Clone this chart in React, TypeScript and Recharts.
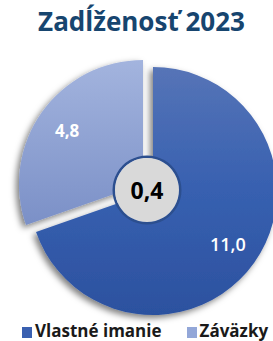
import { PieChart, Pie, Cell } from 'recharts'

const categories = ['Vlastné imanie', 'Záväzky']
const values = [11.0, 4.8]
const centerValue = [0.4]
const colors = ['#3a60b0', '#93a7d8']

const data = categories.map((name, i) => ({ name, value: values[i] }))
const centerData = centerValue.map((value) => ({ name: 'center', value }))

const fmt = (v: number) => v.toFixed(1).replace('.', ',')

const RAD = Math.PI / 180

function sliceLabel(index: number, dist: number, size: number, weight: number) {
  return (props: any) => {
    if (props.index !== index) return null
    const { cx, cy, midAngle, outerRadius, value } = props
    const x = cx + outerRadius * dist * Math.cos(-midAngle * RAD)
    const y = cy + outerRadius * dist * Math.sin(-midAngle * RAD)
    return (
      <text x={x} y={y} fill="#ffffff" fontSize={size} fontWeight={weight} textAnchor="middle" dominantBaseline="central" fontFamily="'Open Sans', sans-serif">
        {fmt(value)}
      </text>
    )
  }
}

export default function App() {
  return (
    <div style={{ position: 'absolute', left: 0, top: 0, width: 273, height: 341, background: '#fff', fontFamily: "'Open Sans', sans-serif" }}>
      <div style={{ position: 'absolute', left: 5, top: 3, width: 273, textAlign: 'center', fontSize: 26, fontWeight: 700, color: '#17456f' }}>
        Zadĺženosť 2023
      </div>
      <div style={{ position: 'absolute', left: 0, top: 0 }}>
        <PieChart width={273} height={341}>
          <defs>
            <linearGradient id="gDark" x1="0" y1="0" x2="0" y2="1">
              <stop offset="0%" stopColor="#5674b7" />
              <stop offset="50%" stopColor="#3760b0" />
              <stop offset="100%" stopColor="#2c519f" />
            </linearGradient>
            <linearGradient id="gLight" x1="0" y1="0" x2="0" y2="1">
              <stop offset="0%" stopColor="#a3b4de" />
              <stop offset="100%" stopColor="#7b90c7" />
            </linearGradient>
            <filter id="shadow" x="-20%" y="-20%" width="140%" height="140%">
              <feDropShadow dx="-3" dy="3" stdDeviation="3" floodColor="#000" floodOpacity="0.5" />
            </filter>
          </defs>
          <Pie
            data={data}
            dataKey="value"
            cx={148}
            cy={186}
            outerRadius={124}
            startAngle={90}
            endAngle={-270}
            stroke="none"
            isAnimationActive={false}
            labelLine={false}
            label={sliceLabel(0, 0.74, 18, 600)}
          >
            <Cell fill="url(#gDark)" filter="url(#shadow)" />
            <Cell fill="transparent" />
          </Pie>
          <Pie
            data={data}
            dataKey="value"
            cx={138}
            cy={179}
            outerRadius={124}
            startAngle={90}
            endAngle={-270}
            stroke="none"
            isAnimationActive={false}
            labelLine={false}
            label={sliceLabel(1, 0.75, 17, 700)}
          >
            <Cell fill="transparent" />
            <Cell fill="url(#gLight)" filter="url(#shadow)" />
          </Pie>
          <Pie
            data={centerData}
            dataKey="value"
            cx={142}
            cy={185}
            innerRadius={32}
            outerRadius={34.5}
            startAngle={90}
            endAngle={-270}
            fill="#2c4f8f"
            stroke="none"
            isAnimationActive={false}
          />
          <Pie
            data={centerData}
            dataKey="value"
            cx={142}
            cy={185}
            outerRadius={32}
            startAngle={90}
            endAngle={-270}
            fill="#d9d9d9"
            stroke="none"
            isAnimationActive={false}
            labelLine={false}
            label={(p: any) => (
              <text x={p.cx} y={p.cy} fill="#000" fontSize={23} fontWeight={700} textAnchor="middle" dominantBaseline="central" fontFamily="'Open Sans', sans-serif">
                {fmt(p.value)}
              </text>
            )}
          />
        </PieChart>
      </div>
      <div style={{ position: 'absolute', left: 22, top: 319, display: 'flex', alignItems: 'center', fontSize: 17, fontWeight: 700, color: '#1a1a1a', gap: 25 }}>
        {categories.map((c, i) => (
          <div key={c} style={{ display: 'flex', alignItems: 'center' }}>
            <span style={{ display: 'inline-block', width: 10, height: 11, background: colors[i], marginRight: 3, marginTop: 3 }} />
            {c}
          </div>
        ))}
      </div>
    </div>
  )
}
